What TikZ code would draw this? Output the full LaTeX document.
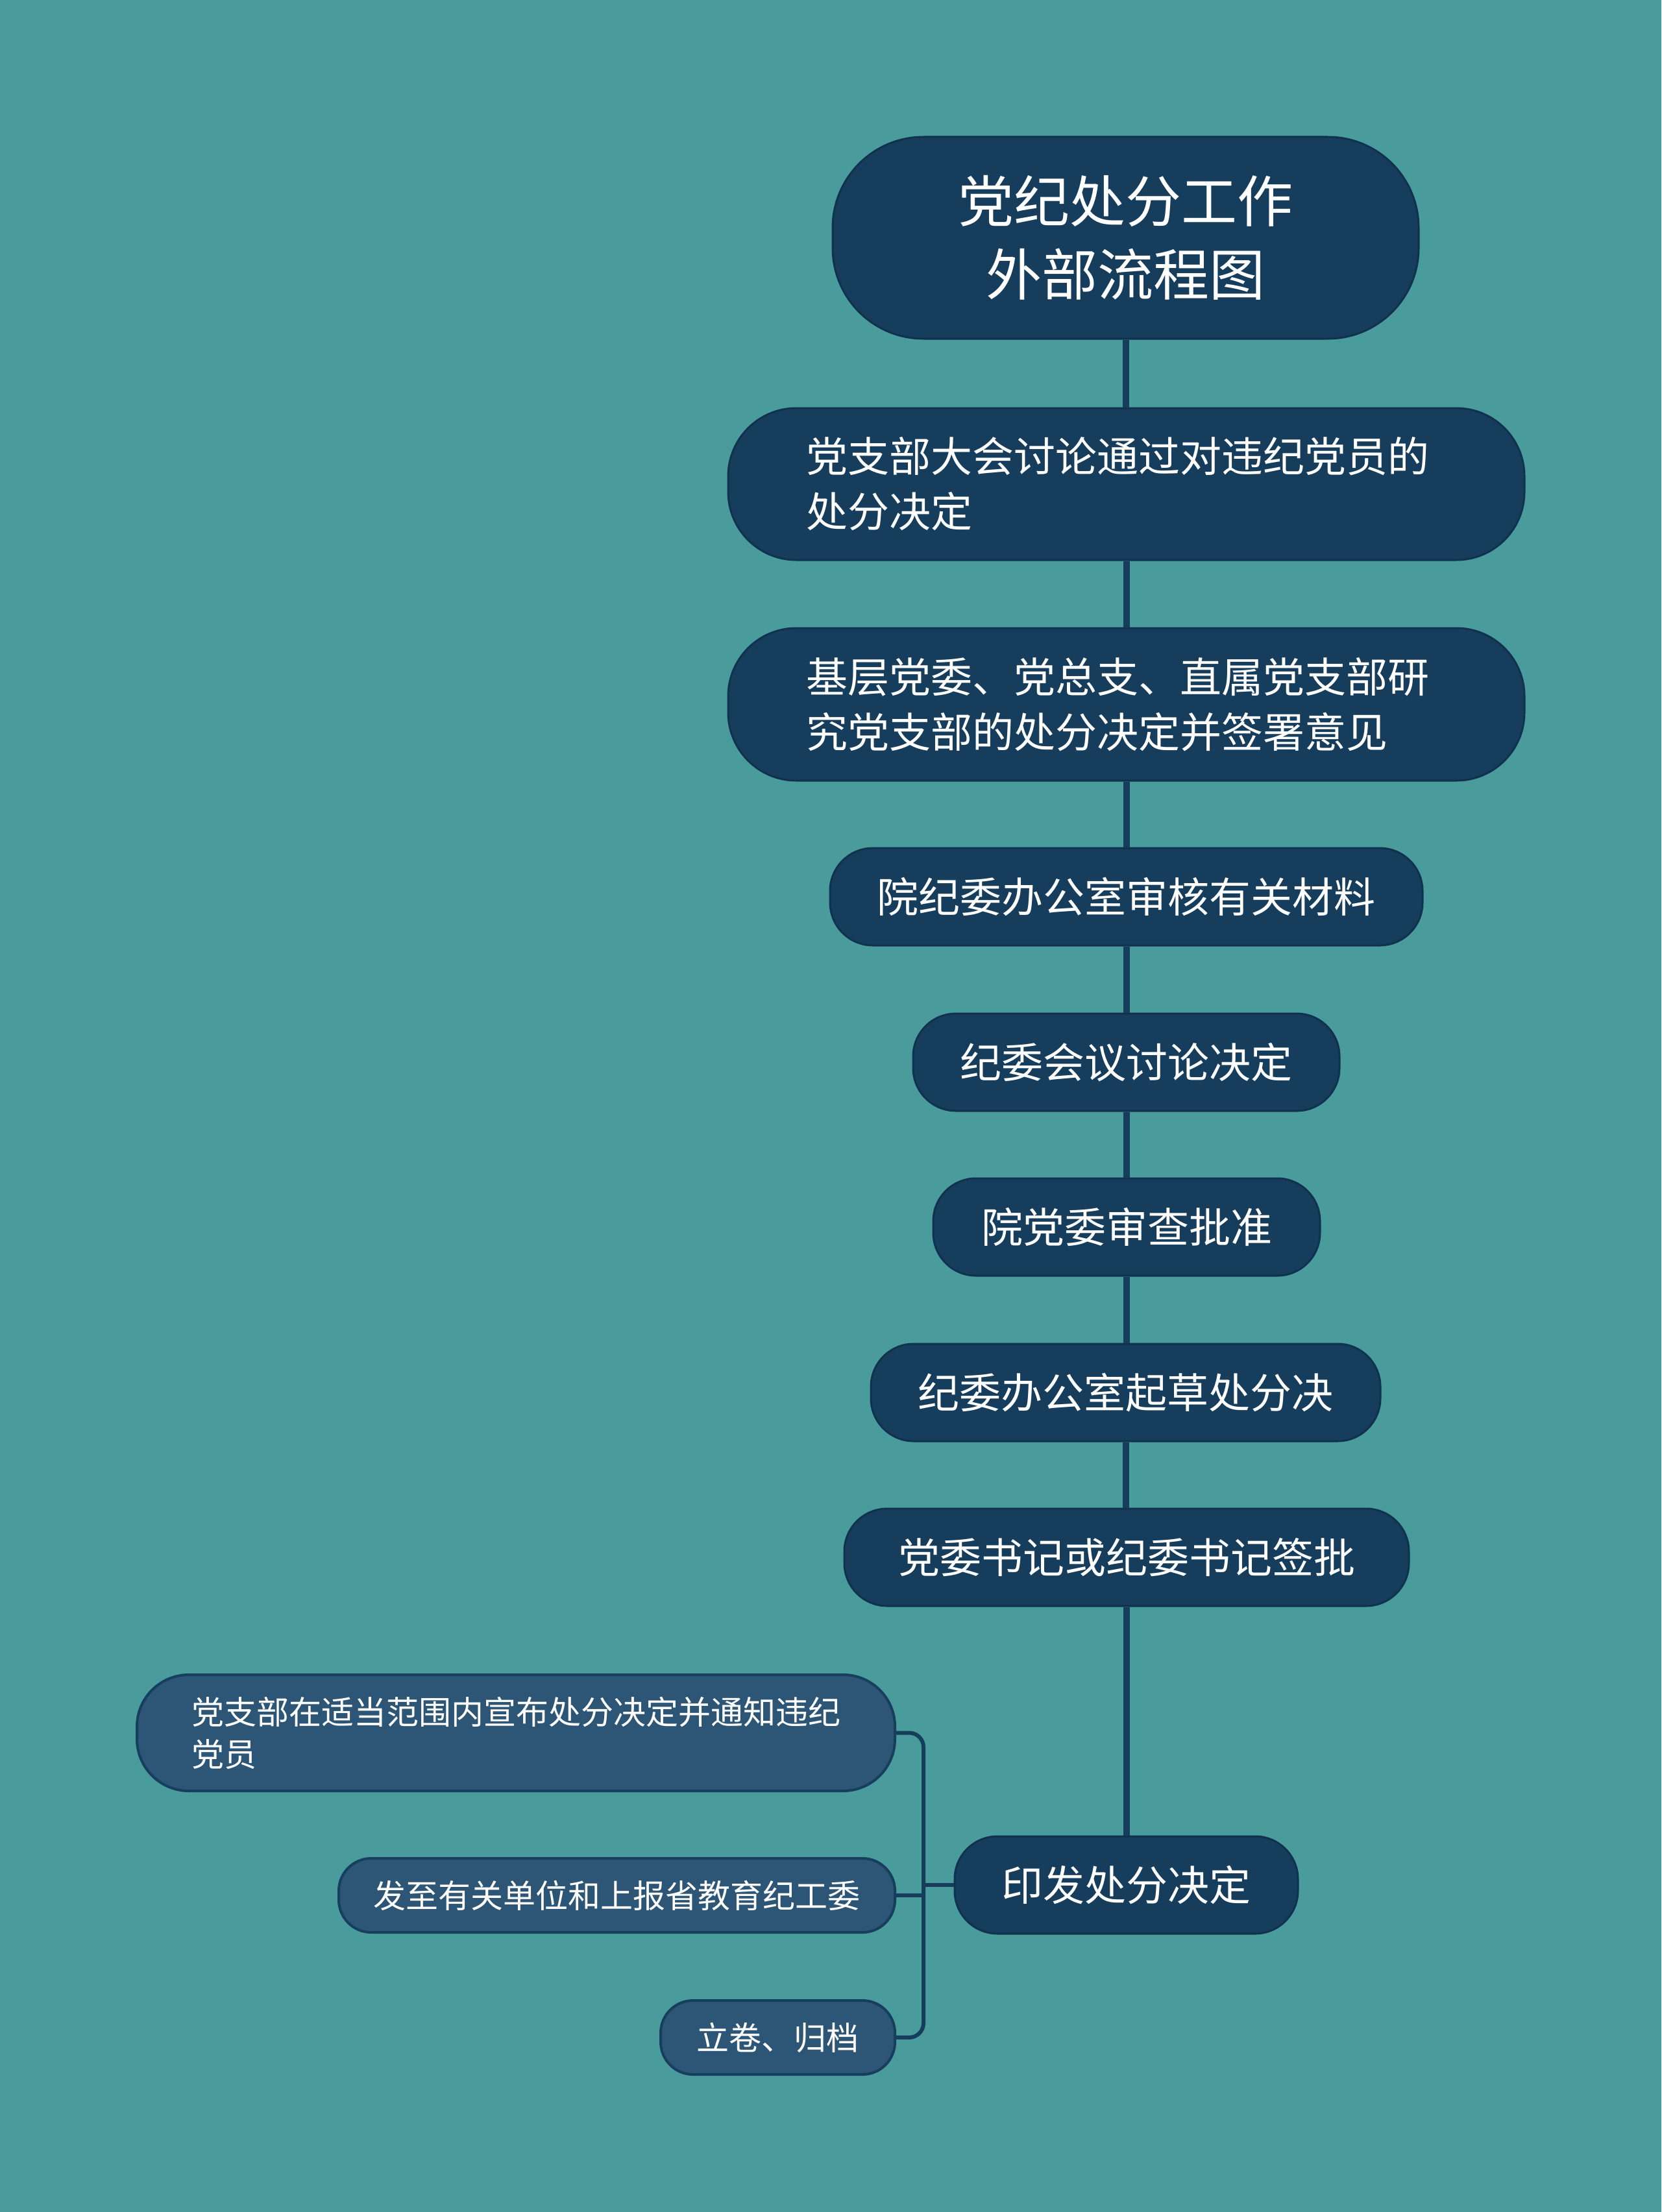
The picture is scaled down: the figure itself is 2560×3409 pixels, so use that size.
\documentclass[tikz,border=0pt]{standalone}
\usepackage{fontspec}
\newfontfamily\cjk{Noto Sans CJK SC}
\definecolor{bg}{HTML}{4A9C9C}
\definecolor{mainfill}{HTML}{163D5C}
\definecolor{mainborder}{HTML}{10324E}
\definecolor{childfill}{HTML}{2D5676}
\definecolor{childborder}{HTML}{173E5D}
\definecolor{linecol}{HTML}{163D5C}
\begin{document}
\begin{tikzpicture}[x=1pt,y=-1pt,
  mainbox/.style={draw=mainborder, line width=3pt, fill=mainfill, text=white,
    inner sep=0pt, font=\cjk\fontsize{64}{85}\selectfont},
  rootbox/.style={mainbox, font=\cjk\fontsize{86}{113}\selectfont},
  childbox/.style={draw=childborder, line width=4pt, fill=childfill, text=white,
    inner sep=0pt, font=\cjk\fontsize{50}{65}\selectfont},
  spine/.style={draw=linecol, line width=10pt},
  branch/.style={draw=linecol, line width=6pt}]
\fill[bg] (0,0) rectangle (2560,3409);
\useasboundingbox (0,0) rectangle (2560,3409);

\node[rootbox, minimum width=903pt, minimum height=311pt, rounded corners=140pt, align=center]
  (root) at (1734.5,366.5) {党纪处分工作\\外部流程图};
\node[mainbox, minimum width=1227pt, minimum height=234pt, rounded corners=105pt, text width=987pt, align=left]
  (n1) at (1735.5,746) {党支部大会讨论通过对违纪党员的\\处分决定};
\node[mainbox, minimum width=1227pt, minimum height=235pt, rounded corners=105pt, text width=987pt, align=left]
  (n2) at (1735.5,1085.5) {基层党委、党总支、直属党支部研\\究党支部的处分决定并签署意见};
\node[mainbox, minimum width=913pt, minimum height=150pt, rounded corners=66pt]
  (n3) at (1735.5,1382) {院纪委办公室审核有关材料};
\node[mainbox, minimum width=657pt, minimum height=150pt, rounded corners=66pt]
  (n4) at (1735.5,1637) {纪委会议讨论决定};
\node[mainbox, minimum width=596pt, minimum height=150pt, rounded corners=66pt]
  (n5) at (1736,1891) {院党委审查批准};
\node[mainbox, minimum width=785pt, minimum height=150pt, rounded corners=66pt]
  (n6) at (1734.5,2146) {纪委办公室起草处分决};
\node[mainbox, minimum width=870pt, minimum height=150pt, rounded corners=66pt]
  (n7) at (1736,2400) {党委书记或纪委书记签批};
\node[mainbox, minimum width=529pt, minimum height=150pt, rounded corners=66pt]
  (n8) at (1735.5,2905) {印发处分决定};

\node[childbox, minimum width=1168pt, minimum height=179pt, rounded corners=80pt, text width=1000pt, align=left]
  (c1) at (795,2670.5) {党支部在适当范围内宣布处分决定并通知违纪\\党员};
\node[childbox, minimum width=857pt, minimum height=114pt, rounded corners=50pt]
  (c2) at (950.5,2921) {发至有关单位和上报省教育纪工委};
\node[childbox, minimum width=361pt, minimum height=114pt, rounded corners=50pt]
  (c3) at (1198.5,3140) {立卷、归档};

\draw[spine] (root.south) -- (root.south |- n1.north);
\draw[spine] (n1.south) -- (n1.south |- n2.north);
\draw[spine] (n2.south) -- (n2.south |- n3.north);
\draw[spine] (n3.south) -- (n3.south |- n4.north);
\draw[spine] (n4.south) -- (n4.south |- n5.north);
\draw[spine] (n5.south) -- (n5.south |- n6.north);
\draw[spine] (n6.south) -- (n6.south |- n7.north);
\draw[spine] (n7.south) -- (n7.south |- n8.north);

\coordinate (jx) at (1423,2905);
\draw[branch, rounded corners=22pt] (c1.east) -- (c1.east -| jx) -- (c3.east -| jx) -- (c3.east);
\draw[branch] (n8.west) -- (n8.west -| jx);
\draw[branch] (c2.east) -- (c2.east -| jx);
\end{tikzpicture}
\end{document}
